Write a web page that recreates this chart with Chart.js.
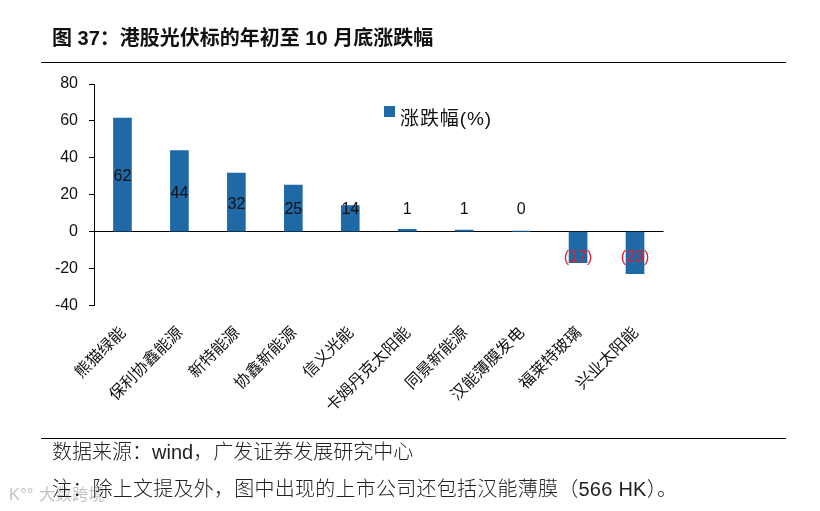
<!DOCTYPE html>
<html>
<head>
<meta charset="utf-8">
<script src="https://cdn.jsdelivr.net/npm/chart.js@4"></script>
<style>
  html, body { margin: 0; padding: 0; background: #fff; }
  #page { position: relative; width: 820px; height: 511px; overflow: hidden; font-family: "Liberation Sans", "Noto Sans CJK SC", sans-serif; color: #111; }
  #page canvas { position: absolute; left: 0; top: 0; }
  .rule { position: absolute; left: 41px; width: 745px; height: 1px; background: #000; }
  .txt { position: absolute; white-space: nowrap; line-height: 24px; }
  #title { left: 52px; top: 26px; font-size: 20px; font-weight: bold; }
  #source { left: 52px; top: 440px; font-size: 20px; font-weight: 300; color: #222; }
  #note { left: 52px; top: 477px; font-size: 20px; font-weight: 300; letter-spacing: .25px; color: #222; }
  #mark { left: 9px; top: 483px; font-size: 16px; letter-spacing: .5px; color: #c4c4c4; }
  #legendBox { position: absolute; left: 384px; top: 106px; width: 11px; height: 11px; }
  #legendText { left: 400px; top: 107px; font-size: 19px; letter-spacing: .9px; }
</style>
</head>
<body>
<div id="page">
  <canvas id="chart" width="820" height="511"></canvas>
  <div class="txt" id="title">图 37：港股光伏标的年初至 10 月底涨跌幅</div>
  <div class="rule" style="top:62px"></div>
  <div class="rule" style="top:438px"></div>
  <div class="txt" id="source">数据来源：wind，广发证券发展研究中心</div>
  <div class="txt" id="mark">K°° 大数跨境</div>
  <div class="txt" id="note">注：除上文提及外，图中出现的上市公司还包括汉能薄膜（566 HK）。</div>
  <div id="legendBox"></div>
  <div class="txt" id="legendText"></div>
</div>
<script>
const categories = ['熊猫绿能', '保利协鑫能源', '新特能源', '协鑫新能源', '信义光能', '卡姆丹克太阳能', '同景新能源', '汉能薄膜发电', '福莱特玻璃', '兴业太阳能'];
const changePct = [61.5, 43.9, 31.7, 25.2, 14.1, 1.3, 0.8, 0.1, -16.8, -22.8];
const barLabels = ['62', '44', '32', '25', '14', '1', '1', '0', '(17)', '(23)'];
const yTicks = [80, 60, 40, 20, 0, -20, -40];
const seriesName = '涨跌幅(%)';

const BAR_BLUE = '#1f69a6';

document.getElementById('legendBox').style.background = BAR_BLUE;
document.getElementById('legendText').textContent = seriesName;

// Labels sit mid-bar, but short bars push them clear of the axis like the original
const barLabelPlugin = {
  id: 'barLabels',
  afterDatasetsDraw(chart) {
    const { ctx, scales: { y } } = chart;
    const bars = chart.getDatasetMeta(0).data;
    ctx.save();
    ctx.font = '16px "Liberation Sans"';
    ctx.textAlign = 'center';
    ctx.textBaseline = 'middle';
    bars.forEach((bar, i) => {
      const v = changePct[i];
      const anchor = v >= 0 ? Math.max(v / 2, 13) : Math.min(v / 2, -13);
      ctx.fillStyle = v < 0 ? '#e0212f' : '#111';
      ctx.fillText(barLabels[i], bar.x, y.getPixelForValue(anchor) + 2);
    });
    ctx.restore();
  }
};

new Chart(document.getElementById('chart').getContext('2d'), {
  type: 'bar',
  data: {
    labels: categories,
    datasets: [{
      label: seriesName,
      data: changePct,
      backgroundColor: BAR_BLUE,
      barThickness: 18
    }]
  },
  options: {
    responsive: false,
    animation: false,
    layout: { padding: { left: 0, right: 156.5, top: 84, bottom: 0 } },
    plugins: {
      legend: { display: false },
      tooltip: { enabled: false }
    },
    scales: {
      x: {
        afterFit: (axis) => { axis.height = 205.5; }, // pins the plot bottom at -40
        grid: { display: false },
        border: { display: false },
        ticks: {
          color: '#111',
          font: { size: 16, family: '"Liberation Sans", "Noto Sans CJK SC"' },
          minRotation: 45,
          maxRotation: 45,
          autoSkip: false,
          labelOffset: 1,
          padding: 10
        }
      },
      y: {
        min: -40,
        max: 80,
        afterFit: (axis) => { axis.width = 94; },
        afterBuildTicks: (axis) => { axis.ticks = yTicks.map(value => ({ value })); },
        border: { color: '#000', width: 1 },
        grid: {
          color: (c) => (c.tick && c.tick.value === 0 ? '#000' : 'rgba(0,0,0,0)'),
          tickColor: '#000',
          tickLength: 5
        },
        ticks: {
          color: '#111',
          font: { size: 16, family: '"Liberation Sans"' },
          padding: 11
        }
      }
    }
  },
  plugins: [barLabelPlugin]
});
</script>
</body>
</html>
